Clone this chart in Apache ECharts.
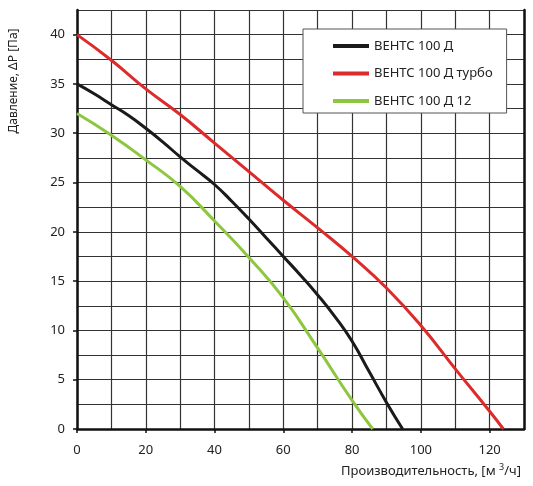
<!DOCTYPE html>
<html>
<head>
<meta charset="utf-8">
<script src="https://cdn.jsdelivr.net/npm/echarts@6/dist/echarts.min.js"></script>
<style>
html,body{margin:0;padding:0;background:#fff;}
#chart{width:533px;height:486px;}
</style>
</head>
<body>
<div id="chart"></div>
<script>
// Data
var seriesNames = ['ВЕНТС 100 Д', 'ВЕНТС 100 Д турбо', 'ВЕНТС 100 Д 12'];

var flowBlack = [0, 5, 10, 15, 20, 25, 30, 35, 40, 45, 50, 55, 60, 65, 70, 75, 80, 85, 90, 94.7];
var pressBlack = [35, 34.0, 32.9, 31.8, 30.5, 29.1, 27.6, 26.2, 24.8, 23.1, 21.3, 19.4, 17.5, 15.6, 13.6, 11.4, 8.9, 5.8, 2.7, 0];

var flowRed = [0, 10, 20, 30, 40, 50, 60, 70, 80, 90, 100, 110, 120, 124];
var pressRed = [40, 37.4, 34.5, 31.9, 29.0, 26.1, 23.2, 20.4, 17.5, 14.3, 10.5, 6.1, 1.8, 0];

var flowGreen = [0, 10, 20, 30, 40, 50, 60, 70, 80, 86];
var pressGreen = [32, 29.8, 27.3, 24.6, 21.1, 17.4, 13.3, 8.2, 2.9, 0];

var xTickLabels = [0, 20, 40, 60, 80, 100, 120];
var yTickLabels = [0, 5, 10, 15, 20, 25, 30, 35, 40];

function zip(xs, ys) { return xs.map(function (x, i) { return [x, ys[i]]; }); }

var colors = ['#1a1a1a', '#dd2a2a', '#8dc63f'];
var font = 'Noto Sans';
var gridLineStyle = { color: '#333', width: 1.2 };

var chart = echarts.init(document.getElementById('chart'), null, { renderer: 'canvas' });

var option = {
  animation: false,
  backgroundColor: '#fff',
  grid: { left: 77, right: 9, top: 10, bottom: 57 },
  legend: {
    orient: 'vertical',
    left: 303, top: 29,
    padding: [9, 14, 4, 30],
    itemWidth: 36, itemHeight: 4,
    itemGap: 11.5,
    icon: 'rect',
    backgroundColor: '#fff',
    borderColor: '#555', borderWidth: 1,
    textStyle: { fontFamily: font, fontSize: 13, color: '#222', lineHeight: 16 },
    data: seriesNames
  },
  xAxis: [{
    type: 'value', min: 0, max: 130, interval: 10,
    axisLine: { show: true, onZero: false, lineStyle: { color: '#111', width: 2.5 } },
    axisTick: { show: true, length: 4, customValues: xTickLabels, lineStyle: { color: '#111', width: 1.5 } },
    axisLabel: { customValues: xTickLabels, margin: 15, fontFamily: font, fontSize: 13, color: '#222' },
    splitLine: { show: false }
  }, {
    type: 'value', min: 0, max: 130, interval: 10, position: 'top',
    axisLine: { show: false }, axisTick: { show: false }, axisLabel: { show: false },
    splitLine: { show: true, lineStyle: gridLineStyle }
  }],
  yAxis: [{
    type: 'value', min: 0, max: 42.5, interval: 2.5,
    axisLine: { show: true, onZero: false, lineStyle: { color: '#111', width: 2.5 } },
    axisTick: { show: true, length: 4, customValues: yTickLabels, lineStyle: { color: '#111', width: 1.5 } },
    axisLabel: { customValues: yTickLabels, margin: 12, fontFamily: font, fontSize: 13, color: '#222' },
    splitLine: { show: false }
  }, {
    type: 'value', min: 0, max: 42.5, interval: 2.5, position: 'right',
    axisLine: { show: true, onZero: false, lineStyle: { color: '#111', width: 2.5 } },
    axisTick: { show: false }, axisLabel: { show: false },
    splitLine: { show: true, lineStyle: gridLineStyle }
  }],
  graphic: [{
    type: 'text', x: 14, y: 81, rotation: Math.PI / 2,
    style: { text: 'Давление, ΔP [Па]', fontFamily: font, fontSize: 12, fill: '#222', align: 'center', verticalAlign: 'middle' }
  }, {
    type: 'text', x: 341, y: 471,
    style: {
      text: '{a|Производительность, [м }{s|3}{a|/ч]}', fill: '#222',
      align: 'left', verticalAlign: 'middle',
      rich: {
        a: { fontFamily: font, fontSize: 13, fill: '#222' },
        s: { fontFamily: font, fontSize: 9, fill: '#222', verticalAlign: 'top', padding: [0, 0, 7, 0] }
      }
    }
  }],
  series: [
    { name: seriesNames[0], type: 'line', smooth: 0.5, showSymbol: false, data: zip(flowBlack, pressBlack), lineStyle: { color: colors[0], width: 3 }, itemStyle: { color: colors[0] }, z: 4 },
    { name: seriesNames[1], type: 'line', smooth: 0.5, showSymbol: false, data: zip(flowRed, pressRed), lineStyle: { color: colors[1], width: 3 }, itemStyle: { color: colors[1] }, z: 4 },
    { name: seriesNames[2], type: 'line', smooth: 0.5, showSymbol: false, data: zip(flowGreen, pressGreen), lineStyle: { color: colors[2], width: 3 }, itemStyle: { color: colors[2] }, z: 4 }
  ]
};
chart.setOption(option);
</script>
</body>
</html>
